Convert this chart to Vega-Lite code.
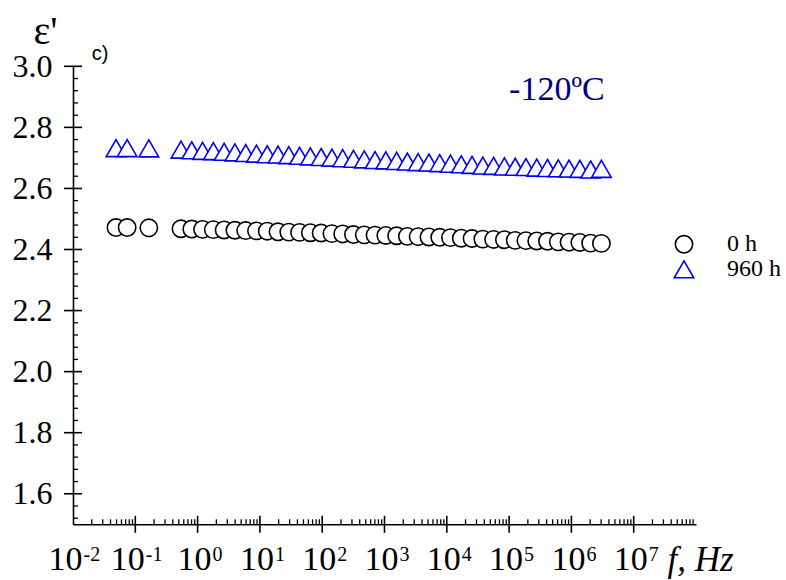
{
  "$schema": "https://vega.github.io/schema/vega-lite/v6.json",
  "width": 623,
  "height": 458,
  "autosize": {"type": "none"},
  "padding": {"left": 73, "top": 66.3, "right": 90, "bottom": 55.7},
  "background": "white",
  "config": {
    "view": {"stroke": null},
    "font": "Liberation Serif",
    "axis": {"labelFont": "Liberation Serif", "titleFont": "Liberation Serif"},
    "legend": {"labelFont": "Liberation Serif"},
    "text": {"font": "Liberation Serif", "color": "black"}
  },
  "datasets": {
    "eps": [
      {"f": 0.049, "eps": 2.472, "aging": "0 h"},
      {"f": 0.074, "eps": 2.472, "aging": "0 h"},
      {"f": 0.165, "eps": 2.471, "aging": "0 h"},
      {"f": 0.5414, "eps": 2.468, "aging": "0 h"},
      {"f": 0.8063, "eps": 2.467, "aging": "0 h"},
      {"f": 1.201, "eps": 2.466, "aging": "0 h"},
      {"f": 1.789, "eps": 2.465, "aging": "0 h"},
      {"f": 2.665, "eps": 2.464, "aging": "0 h"},
      {"f": 3.969, "eps": 2.463, "aging": "0 h"},
      {"f": 5.911, "eps": 2.462, "aging": "0 h"},
      {"f": 8.804, "eps": 2.461, "aging": "0 h"},
      {"f": 13.11, "eps": 2.46, "aging": "0 h"},
      {"f": 19.53, "eps": 2.458, "aging": "0 h"},
      {"f": 29.09, "eps": 2.457, "aging": "0 h"},
      {"f": 43.33, "eps": 2.456, "aging": "0 h"},
      {"f": 64.54, "eps": 2.455, "aging": "0 h"},
      {"f": 96.14, "eps": 2.454, "aging": "0 h"},
      {"f": 143.2, "eps": 2.452, "aging": "0 h"},
      {"f": 213.3, "eps": 2.451, "aging": "0 h"},
      {"f": 317.7, "eps": 2.449, "aging": "0 h"},
      {"f": 473.2, "eps": 2.448, "aging": "0 h"},
      {"f": 704.7, "eps": 2.447, "aging": "0 h"},
      {"f": 1050, "eps": 2.446, "aging": "0 h"},
      {"f": 1564, "eps": 2.445, "aging": "0 h"},
      {"f": 2329, "eps": 2.443, "aging": "0 h"},
      {"f": 3469, "eps": 2.442, "aging": "0 h"},
      {"f": 5167, "eps": 2.441, "aging": "0 h"},
      {"f": 7696, "eps": 2.44, "aging": "0 h"},
      {"f": 11460, "eps": 2.439, "aging": "0 h"},
      {"f": 17070, "eps": 2.437, "aging": "0 h"},
      {"f": 25430, "eps": 2.436, "aging": "0 h"},
      {"f": 37880, "eps": 2.434, "aging": "0 h"},
      {"f": 56410, "eps": 2.433, "aging": "0 h"},
      {"f": 84030, "eps": 2.432, "aging": "0 h"},
      {"f": 125200, "eps": 2.43, "aging": "0 h"},
      {"f": 186400, "eps": 2.429, "aging": "0 h"},
      {"f": 277600, "eps": 2.428, "aging": "0 h"},
      {"f": 413500, "eps": 2.427, "aging": "0 h"},
      {"f": 615900, "eps": 2.425, "aging": "0 h"},
      {"f": 917400, "eps": 2.424, "aging": "0 h"},
      {"f": 1366000, "eps": 2.423, "aging": "0 h"},
      {"f": 2035000, "eps": 2.421, "aging": "0 h"},
      {"f": 3031000, "eps": 2.42, "aging": "0 h"},
      {"f": 0.049, "eps": 2.732, "aging": "960 h"},
      {"f": 0.074, "eps": 2.732, "aging": "960 h"},
      {"f": 0.165, "eps": 2.731, "aging": "960 h"},
      {"f": 0.5414, "eps": 2.727, "aging": "960 h"},
      {"f": 0.8063, "eps": 2.725, "aging": "960 h"},
      {"f": 1.201, "eps": 2.723, "aging": "960 h"},
      {"f": 1.789, "eps": 2.722, "aging": "960 h"},
      {"f": 2.665, "eps": 2.72, "aging": "960 h"},
      {"f": 3.969, "eps": 2.718, "aging": "960 h"},
      {"f": 5.911, "eps": 2.716, "aging": "960 h"},
      {"f": 8.804, "eps": 2.714, "aging": "960 h"},
      {"f": 13.11, "eps": 2.712, "aging": "960 h"},
      {"f": 19.53, "eps": 2.711, "aging": "960 h"},
      {"f": 29.09, "eps": 2.709, "aging": "960 h"},
      {"f": 43.33, "eps": 2.707, "aging": "960 h"},
      {"f": 64.54, "eps": 2.705, "aging": "960 h"},
      {"f": 96.14, "eps": 2.703, "aging": "960 h"},
      {"f": 143.2, "eps": 2.701, "aging": "960 h"},
      {"f": 213.3, "eps": 2.699, "aging": "960 h"},
      {"f": 317.7, "eps": 2.697, "aging": "960 h"},
      {"f": 473.2, "eps": 2.695, "aging": "960 h"},
      {"f": 704.7, "eps": 2.693, "aging": "960 h"},
      {"f": 1050, "eps": 2.692, "aging": "960 h"},
      {"f": 1564, "eps": 2.69, "aging": "960 h"},
      {"f": 2329, "eps": 2.688, "aging": "960 h"},
      {"f": 3469, "eps": 2.686, "aging": "960 h"},
      {"f": 5167, "eps": 2.685, "aging": "960 h"},
      {"f": 7696, "eps": 2.683, "aging": "960 h"},
      {"f": 11460, "eps": 2.681, "aging": "960 h"},
      {"f": 17070, "eps": 2.679, "aging": "960 h"},
      {"f": 25430, "eps": 2.677, "aging": "960 h"},
      {"f": 37880, "eps": 2.675, "aging": "960 h"},
      {"f": 56410, "eps": 2.674, "aging": "960 h"},
      {"f": 84030, "eps": 2.672, "aging": "960 h"},
      {"f": 125200, "eps": 2.671, "aging": "960 h"},
      {"f": 186400, "eps": 2.67, "aging": "960 h"},
      {"f": 277600, "eps": 2.668, "aging": "960 h"},
      {"f": 413500, "eps": 2.667, "aging": "960 h"},
      {"f": 615900, "eps": 2.666, "aging": "960 h"},
      {"f": 917400, "eps": 2.665, "aging": "960 h"},
      {"f": 1366000, "eps": 2.664, "aging": "960 h"},
      {"f": 2035000, "eps": 2.662, "aging": "960 h"},
      {"f": 3031000, "eps": 2.664, "aging": "960 h"}
    ],
    "xmajor": [
      {"v": 0.1}, {"v": 1}, {"v": 10}, {"v": 100}, {"v": 1000},
      {"v": 10000}, {"v": 100000}, {"v": 1000000}, {"v": 10000000}
    ],
    "xminor": [
      {"v": 0.02}, {"v": 0.03}, {"v": 0.04}, {"v": 0.05}, {"v": 0.06}, {"v": 0.07}, {"v": 0.08}, {"v": 0.09},
      {"v": 0.2}, {"v": 0.3}, {"v": 0.4}, {"v": 0.5}, {"v": 0.6}, {"v": 0.7}, {"v": 0.8}, {"v": 0.9},
      {"v": 2}, {"v": 3}, {"v": 4}, {"v": 5}, {"v": 6}, {"v": 7}, {"v": 8}, {"v": 9},
      {"v": 20}, {"v": 30}, {"v": 40}, {"v": 50}, {"v": 60}, {"v": 70}, {"v": 80}, {"v": 90},
      {"v": 200}, {"v": 300}, {"v": 400}, {"v": 500}, {"v": 600}, {"v": 700}, {"v": 800}, {"v": 900},
      {"v": 2000}, {"v": 3000}, {"v": 4000}, {"v": 5000}, {"v": 6000}, {"v": 7000}, {"v": 8000}, {"v": 9000},
      {"v": 20000}, {"v": 30000}, {"v": 40000}, {"v": 50000}, {"v": 60000}, {"v": 70000}, {"v": 80000}, {"v": 90000},
      {"v": 200000}, {"v": 300000}, {"v": 400000}, {"v": 500000}, {"v": 600000}, {"v": 700000}, {"v": 800000}, {"v": 900000},
      {"v": 2000000}, {"v": 3000000}, {"v": 4000000}, {"v": 5000000}, {"v": 6000000}, {"v": 7000000}, {"v": 8000000}, {"v": 9000000},
      {"v": 20000000}, {"v": 30000000}, {"v": 40000000}, {"v": 50000000}, {"v": 60000000}, {"v": 70000000}, {"v": 80000000}, {"v": 90000000}
    ],
    "ymajor": [
      {"v": 1.6}, {"v": 1.8}, {"v": 2.0}, {"v": 2.2}, {"v": 2.4}, {"v": 2.6}, {"v": 2.8}, {"v": 3.0}
    ],
    "yminor": [
      {"v": 1.52}, {"v": 1.56}, {"v": 1.64}, {"v": 1.68}, {"v": 1.72}, {"v": 1.76},
      {"v": 1.84}, {"v": 1.88}, {"v": 1.92}, {"v": 1.96}, {"v": 2.04}, {"v": 2.08},
      {"v": 2.12}, {"v": 2.16}, {"v": 2.24}, {"v": 2.28}, {"v": 2.32}, {"v": 2.36},
      {"v": 2.44}, {"v": 2.48}, {"v": 2.52}, {"v": 2.56}, {"v": 2.64}, {"v": 2.68},
      {"v": 2.72}, {"v": 2.76}, {"v": 2.84}, {"v": 2.88}, {"v": 2.92}, {"v": 2.96}
    ],
    "xlab": [
      {"f": 0.01, "e": "-2"}, {"f": 0.1, "e": "-1"}, {"f": 1, "e": "0"}, {"f": 10, "e": "1"},
      {"f": 100, "e": "2"}, {"f": 1000, "e": "3"}, {"f": 10000, "e": "4"}, {"f": 100000, "e": "5"},
      {"f": 1000000, "e": "6"}, {"f": 10000000, "e": "7"}
    ],
    "notes": [
      {"f": 100000, "eps": 2.89, "label": "-120ºC"}
    ],
    "panel": [
      {"f": 0.02, "eps": 3.02, "label": "c)"}
    ]
  },
  "layer": [
    {
      "data": {"name": "eps"},
      "mark": {"type": "point", "filled": true, "fill": "white", "fillOpacity": 1, "opacity": 1, "strokeWidth": 1.6, "size": 300},
      "encoding": {
        "x": {
          "field": "f",
          "type": "quantitative",
          "scale": {"type": "log", "domain": [0.01, 100000000], "nice": false},
          "axis": {
            "title": "f, Hz",
            "titleFont": "Liberation Serif",
            "titleFontStyle": "italic",
            "titleFontWeight": "normal",
            "titleFontSize": 35,
            "titleColor": "black",
            "titleX": 594,
            "titleY": 46,
            "titleAlign": "left",
            "titleBaseline": "alphabetic",
            "labels": false,
            "ticks": false,
            "grid": false,
            "domainColor": "black",
            "domainWidth": 1.6
          }
        },
        "y": {
          "field": "eps",
          "type": "quantitative",
          "scale": {"domain": [1.5, 3.0], "nice": false, "zero": false},
          "axis": {
            "title": "ε'",
            "titleFont": "Liberation Serif",
            "titleFontWeight": "normal",
            "titleFontSize": 40,
            "titleColor": "black",
            "titleAngle": 0,
            "titleX": -40,
            "titleY": -23,
            "titleAlign": "left",
            "titleBaseline": "alphabetic",
            "values": [1.6, 1.8, 2.0, 2.2, 2.4, 2.6, 2.8, 3.0],
            "format": ".1f",
            "labelFont": "Liberation Serif",
            "labelFontSize": 32,
            "labelColor": "black",
            "labelPadding": 21,
            "labelOverlap": false,
            "ticks": false,
            "grid": false,
            "domainColor": "black",
            "domainWidth": 1.6
          }
        },
        "shape": {
          "field": "aging",
          "type": "nominal",
          "scale": {"domain": ["0 h", "960 h"], "range": ["circle", "M0,-0.98L1.13,0.98L-1.13,0.98Z"]},
          "legend": {
            "orient": "none",
            "legendX": 599,
            "legendY": 166,
            "title": null,
            "padding": 0,
            "labelFont": "Liberation Serif",
            "labelFontSize": 24,
            "labelColor": "black",
            "labelOffset": 31,
            "rowPadding": 1,
            "symbolSize": 300,
            "symbolStrokeWidth": 1.6,
            "symbolFillColor": "white"
          }
        },
        "stroke": {
          "field": "aging",
          "type": "nominal",
          "scale": {"domain": ["0 h", "960 h"], "range": ["black", "#0000ff"]},
          "legend": {
            "orient": "none",
            "legendX": 599,
            "legendY": 166,
            "title": null,
            "padding": 0,
            "labelFont": "Liberation Serif",
            "labelFontSize": 24,
            "labelColor": "black",
            "labelOffset": 31,
            "rowPadding": 1,
            "symbolSize": 300,
            "symbolStrokeWidth": 1.6,
            "symbolFillColor": "white"
          }
        }
      }
    },
    {
      "data": {"name": "xminor"},
      "mark": {"type": "tick", "orient": "vertical", "size": 5, "thickness": 1.3, "yOffset": -2.5, "color": "black", "opacity": 1},
      "encoding": {
        "x": {"field": "v", "type": "quantitative"},
        "y": {"datum": 1.5, "type": "quantitative"}
      }
    },
    {
      "data": {"name": "xmajor"},
      "mark": {"type": "tick", "orient": "vertical", "size": 17, "thickness": 1.6, "color": "black", "opacity": 1},
      "encoding": {
        "x": {"field": "v", "type": "quantitative"},
        "y": {"datum": 1.5, "type": "quantitative"}
      }
    },
    {
      "data": {"name": "yminor"},
      "mark": {"type": "tick", "orient": "horizontal", "size": 5, "thickness": 1.3, "xOffset": 2.5, "color": "black", "opacity": 1},
      "encoding": {
        "x": {"datum": 0.01, "type": "quantitative"},
        "y": {"field": "v", "type": "quantitative"}
      }
    },
    {
      "data": {"name": "ymajor"},
      "mark": {"type": "tick", "orient": "horizontal", "size": 18, "thickness": 1.6, "color": "black", "opacity": 1},
      "encoding": {
        "x": {"datum": 0.01, "type": "quantitative"},
        "y": {"field": "v", "type": "quantitative"}
      }
    },
    {
      "data": {"name": "xlab"},
      "transform": [{"filter": "datum.f < 1"}],
      "mark": {"type": "text", "align": "right", "baseline": "alphabetic", "dx": 9.5, "dy": 46, "fontSize": 34},
      "encoding": {
        "x": {"field": "f", "type": "quantitative"},
        "y": {"datum": 1.5, "type": "quantitative"},
        "text": {"value": "10"}
      }
    },
    {
      "data": {"name": "xlab"},
      "transform": [{"filter": "datum.f < 1"}],
      "mark": {"type": "text", "align": "left", "baseline": "alphabetic", "dx": 10.5, "dy": 36.5, "fontSize": 20},
      "encoding": {
        "x": {"field": "f", "type": "quantitative"},
        "y": {"datum": 1.5, "type": "quantitative"},
        "text": {"field": "e"}
      }
    },
    {
      "data": {"name": "xlab"},
      "transform": [{"filter": "datum.f >= 1"}],
      "mark": {"type": "text", "align": "right", "baseline": "alphabetic", "dx": 14, "dy": 46, "fontSize": 34},
      "encoding": {
        "x": {"field": "f", "type": "quantitative"},
        "y": {"datum": 1.5, "type": "quantitative"},
        "text": {"value": "10"}
      }
    },
    {
      "data": {"name": "xlab"},
      "transform": [{"filter": "datum.f >= 1"}],
      "mark": {"type": "text", "align": "left", "baseline": "alphabetic", "dx": 15, "dy": 36.5, "fontSize": 20},
      "encoding": {
        "x": {"field": "f", "type": "quantitative"},
        "y": {"datum": 1.5, "type": "quantitative"},
        "text": {"field": "e"}
      }
    },
    {
      "data": {"name": "notes"},
      "mark": {"type": "text", "align": "left", "baseline": "alphabetic", "fontSize": 34, "color": "#000080"},
      "encoding": {
        "x": {"field": "f", "type": "quantitative"},
        "y": {"field": "eps", "type": "quantitative"},
        "text": {"field": "label"}
      }
    },
    {
      "data": {"name": "panel"},
      "mark": {"type": "text", "align": "left", "baseline": "alphabetic", "fontSize": 20, "font": "Liberation Sans"},
      "encoding": {
        "x": {"field": "f", "type": "quantitative"},
        "y": {"field": "eps", "type": "quantitative"},
        "text": {"field": "label"}
      }
    }
  ]
}
